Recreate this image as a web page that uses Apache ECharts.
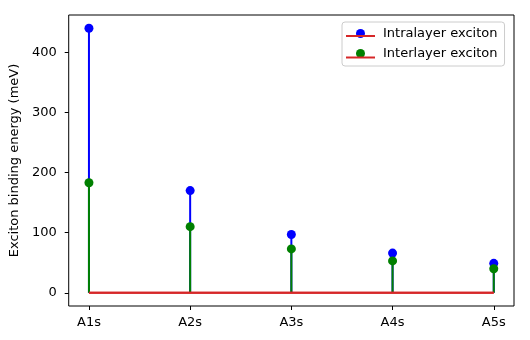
<!DOCTYPE html>
<html>
<head>
<meta charset="utf-8">
<script src="https://cdn.jsdelivr.net/npm/echarts@6/dist/echarts.min.js"></script>
<style>
  html, body { margin: 0; padding: 0; background: #fff; }
  #chart { width: 530px; height: 340px; }
</style>
</head>
<body>
<div id="chart"></div>
<script>
const categories = ["A1s", "A2s", "A3s", "A4s", "A5s"];
const intralayer = [440, 170, 97, 66, 49];
const interlayer = [183, 110, 73, 53, 40];
const yTicks = [0, 100, 200, 300, 400];

const BLUE = "#0000ff";
const GREEN = "#008000";
const RED = "#d62728";
const FONT = "DejaVu Sans";

const chart = echarts.init(document.getElementById("chart"));

function toPoints(values) {
  return values.map((v, i) => [i, v]);
}

function stemSeries(values, color) {
  return {
    type: "custom",
    silent: true,
    data: toPoints(values),
    renderItem(params, api) {
      const top = api.coord([api.value(0), api.value(1)]);
      const base = api.coord([api.value(0), 0]);
      return {
        type: "line",
        shape: { x1: base[0], y1: base[1], x2: top[0], y2: top[1] },
        style: { stroke: color, lineWidth: 2 },
      };
    },
  };
}

function markerSeries(name, values, color) {
  return {
    name: name,
    type: "scatter",
    data: toPoints(values),
    symbol: "circle",
    symbolSize: 9,
    itemStyle: { color: color, opacity: 1 },
  };
}

function baselineSeries() {
  return {
    type: "line",
    silent: true,
    data: [[0, 0], [categories.length - 1, 0]],
    symbol: "none",
    lineStyle: { color: RED, width: 2.2 },
  };
}

chart.setOption({
  animation: false,
  backgroundColor: "#fff",
  textStyle: { fontFamily: FONT },
  grid: {
    left: 67,
    right: 16,
    top: 15,
    bottom: 34,
    show: true,
    borderColor: "#000",
    borderWidth: 1,
    backgroundColor: "transparent",
  },
  legend: {
    orient: "vertical",
    left: 342,
    top: 22,
    data: ["Intralayer exciton", "Interlayer exciton"],
    icon: "circle",
    itemWidth: 9,
    itemHeight: 9,
    itemGap: 5,
    padding: [4, 7, 5, 14],
    borderColor: "#cccccc",
    borderWidth: 1,
    borderRadius: 3,
    backgroundColor: "rgba(255,255,255,0.8)",
    textStyle: { fontFamily: FONT, fontSize: 13, color: "#000", lineHeight: 15, padding: [0, 0, 0, 13] },
    selectedMode: false,
  },
  graphic: [
    { type: "rect", left: 346, top: 35, shape: { width: 29, height: 2 }, style: { fill: RED }, z: 100 },
    { type: "rect", left: 346, top: 56.5, shape: { width: 29, height: 2 }, style: { fill: RED }, z: 100 },
  ],
  xAxis: {
    type: "value",
    min: -0.2,
    max: categories.length - 1 + 0.2,
    splitLine: { show: false },
    axisLine: { show: false, onZero: false },
    axisTick: { show: true, length: 4, lineStyle: { color: "#000" }, customValues: categories.map((c, i) => i) },
    axisLabel: {
      customValues: categories.map((c, i) => i),
      formatter: (v) => categories[Math.round(v)] ?? "",
      color: "#000",
      fontSize: 13,
      fontFamily: FONT,
      margin: 10,
    },
  },
  yAxis: {
    type: "value",
    min: -22,
    max: 462,
    name: "Exciton binding energy (meV)",
    nameLocation: "middle",
    nameGap: 37,
    nameTextStyle: { color: "#000", fontSize: 13, fontFamily: FONT },
    splitLine: { show: false },
    axisLine: { show: false, onZero: false },
    axisTick: { show: true, length: 4, lineStyle: { color: "#000" }, customValues: yTicks },
    axisLabel: {
      customValues: yTicks,
      color: "#000",
      fontSize: 13,
      fontFamily: FONT,
      margin: 12,
    },
  },
  series: [
    stemSeries(intralayer, BLUE),
    markerSeries("Intralayer exciton", intralayer, BLUE),
    baselineSeries(),
    stemSeries(interlayer, GREEN),
    markerSeries("Interlayer exciton", interlayer, GREEN),
    baselineSeries(),
  ],
});
</script>
</body>
</html>
